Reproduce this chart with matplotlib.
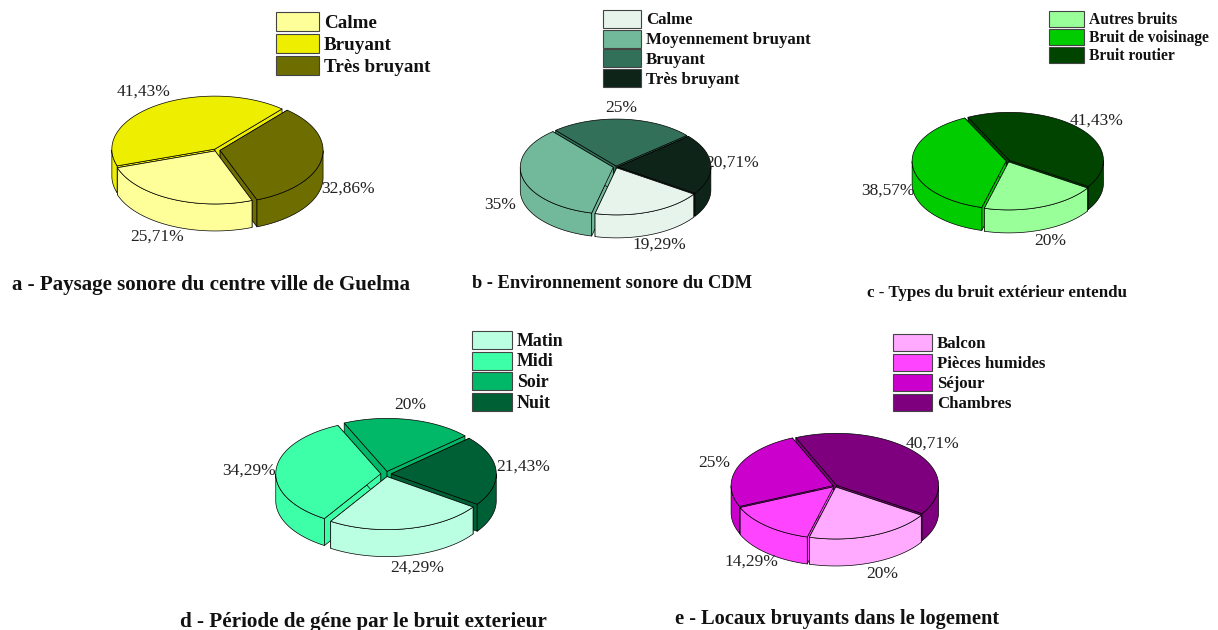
# Five 3D pie charts on noise survey results
import numpy as np
import matplotlib
matplotlib.use('Agg')
import matplotlib.pyplot as plt
from matplotlib.patches import Rectangle

plt.rcParams['font.family'] = ['Liberation Serif', 'DejaVu Serif']

# Data, in legend order (clockwise on the pie)
labels_a = ['Calme', 'Bruyant', 'Très bruyant']
values_a = [25.71, 41.43, 32.86]
colors_a = ['#FFFF99', '#EEEE00', '#6E6E00']
title_a = 'a - Paysage sonore du centre ville de Guelma'

labels_b = ['Calme', 'Moyennement bruyant', 'Bruyant', 'Très bruyant']
values_b = [19.29, 35, 25, 20.71]
colors_b = ['#E6F4EC', '#72B89A', '#33705A', '#0E2419']
title_b = 'b - Environnement sonore du CDM'

labels_c = ['Autres bruits', 'Bruit de voisinage', 'Bruit routier']
values_c = [20, 38.57, 41.43]
colors_c = ['#99FF99', '#00CC00', '#004400']
title_c = 'c - Types du bruit extérieur entendu'

labels_d = ['Matin', 'Midi', 'Soir', 'Nuit']
values_d = [24.29, 34.29, 20, 21.43]
colors_d = ['#BBFFE3', '#3DFFA8', '#00B868', '#006035']
title_d = 'd - Période de géne par le bruit exterieur'

labels_e = ['Balcon', 'Pièces humides', 'Séjour', 'Chambres']
values_e = [20, 14.29, 25, 40.71]
colors_e = ['#FFAAFF', '#FF44FF', '#CC00CC', '#7F007F']
title_e = 'e - Locaux bruyants dans le logement'

fig = plt.figure(figsize=(12.18, 6.3), dpi=100)
ax = fig.add_axes([0, 0, 1, 1])
ax.set_xlim(0, 1218)
ax.set_ylim(630, 0)
ax.axis('off')


def pie3d(cx, cy, rx, ry, depth, start, values, colors, explode):
    angles = start - np.cumsum([0] + list(values)) * 3.6
    slices = []
    for i in range(len(values)):
        t = np.radians(np.linspace(angles[i], angles[i + 1], 120))
        mid = (t[0] + t[-1]) / 2
        ox = cx + explode[i] * rx * np.cos(mid)
        oy = cy - explode[i] * ry * np.sin(mid)
        slices.append((np.sin(mid), t, ox, oy, colors[i]))
    # back slices first
    slices.sort(key=lambda s: -s[0])
    for _, t, ox, oy, col in slices:
        x = ox + rx * np.cos(t)
        y = oy - ry * np.sin(t)
        kw = dict(facecolor=col, edgecolor='black', linewidth=0.5, joinstyle='round')
        # cut faces
        for k in (0, -1):
            ax.fill([ox, x[k], x[k], ox], [oy, y[k], y[k] + depth, oy + depth], **kw)
        # outer wall, front part only
        front = np.sin(t) <= 0
        if front.any():
            xf = x[front]
            yf = y[front]
            ax.fill(np.r_[xf, xf[::-1]], np.r_[yf, yf[::-1] + depth], **kw)
        # top
        ax.fill(np.r_[ox, x], np.r_[oy, y], **kw)


def legend(x, y0, w, h, pitch, labels, colors, size):
    for i, (lab, col) in enumerate(zip(labels, colors)):
        y = y0 + i * pitch
        ax.add_patch(Rectangle((x, y), w, h, facecolor=col, edgecolor='#444444', linewidth=0.8))
        ax.text(x + w + 5, y + h / 2 + 1.5, lab, fontsize=size, fontweight='bold', va='center', ha='left', color='#111111')


def pct_labels(values, xs, ys):
    for v, x, y in zip(values, xs, ys):
        txt = f'{v:g}'.replace('.', ',') + '%'
        ax.text(x, y, txt, fontsize=12.5, va='center', ha='center', color='#222222')


# a
pie3d(216, 150, 103, 53, 27, -69, values_a, colors_a, [0.02, 0.02, 0.04])
legend(276, 12, 43, 19, 22, labels_a, colors_a, 13.8)
pct_labels(values_a, [157, 144, 348], [237, 92, 189])
ax.text(12, 285, title_a, fontsize=15.1, fontweight='bold', va='center', color='#111111')

# b
pie3d(616, 167, 93, 47, 23, -34, values_b, colors_b, [0.02, 0.03, 0.02, 0.02])
legend(603, 10, 38, 18, 19.7, labels_b, colors_b, 12.1)
pct_labels(values_b, [659, 500, 621, 732], [245, 205, 108, 163])
ax.text(472, 284, title_b, fontsize=13.3, fontweight='bold', va='center', color='#111111')

# c
pie3d(1008, 161, 94, 48, 23, -33, values_c, colors_c, [0.02, 0.02, 0.02])
legend(1049, 11, 35, 16, 18, labels_c, colors_c, 11.2)
pct_labels(values_c, [1050, 888, 1097], [241, 191, 121])
ax.text(867, 293, title_c, fontsize=12.2, fontweight='bold', va='center', color='#111111')

# d
pie3d(386, 474, 105, 53, 27, -35, values_d, colors_d, [0.05, 0.05, 0.05, 0.05])
legend(472, 331, 40, 18, 20.5, labels_d, colors_d, 12.9)
pct_labels(values_d, [417, 249, 410, 523], [568, 471, 405, 467])
ax.text(180, 622, title_d, fontsize=15.2, fontweight='bold', va='center', color='#111111')

# e
pie3d(835, 486, 102, 52, 27, -33, values_e, colors_e, [0.02, 0.02, 0.02, 0.02])
legend(893, 334, 39, 17, 20, labels_e, colors_e, 12.1)
pct_labels(values_e, [882, 751, 714, 933], [574, 562, 463, 444])
ax.text(675, 619, title_e, fontsize=14.7, fontweight='bold', va='center', color='#111111')

fig.savefig('out.png', dpi=100)
